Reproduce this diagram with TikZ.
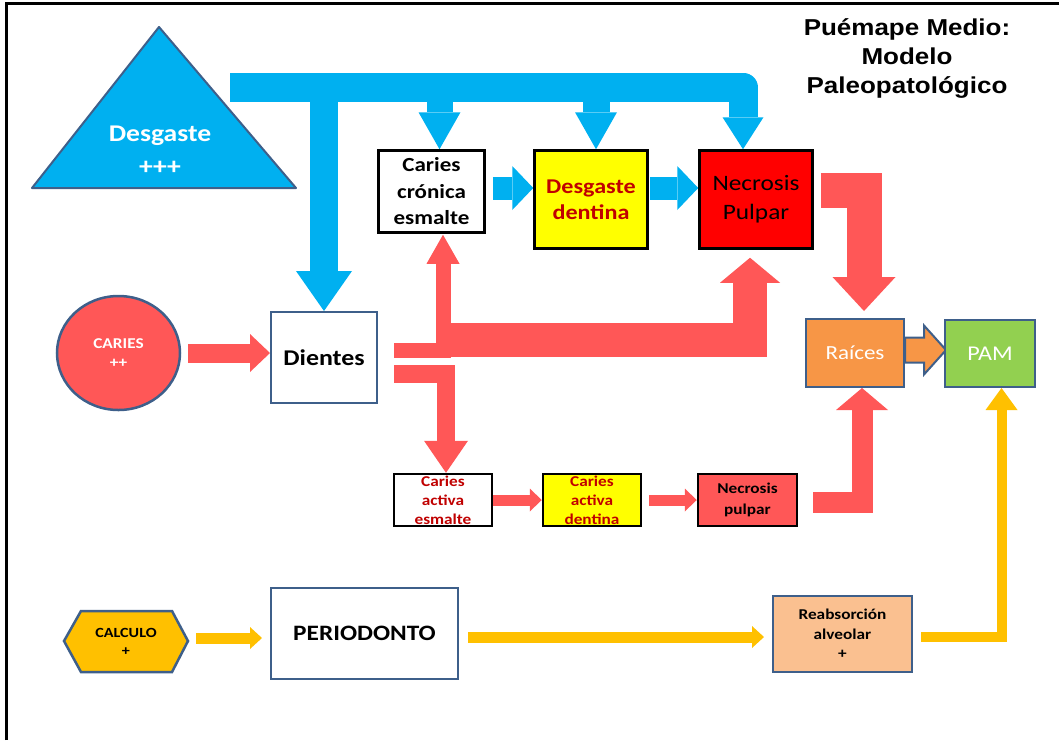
\documentclass[tikz,border=0pt]{standalone}
\usepackage{fontspec}
\setmainfont{Carlito}[FakeStretch=1.15]
\newfontfamily\headfont{Liberation Sans}[FakeStretch=1.13]
\usetikzlibrary{arrows.meta,shapes.geometric,calc}

\definecolor{skyblue}{HTML}{00B0F0}
\definecolor{slate}{HTML}{3E5F8A}
\definecolor{salmon}{HTML}{FF5757}
\definecolor{darkred}{HTML}{C00000}
\definecolor{brightred}{HTML}{FF0000}
\definecolor{lemon}{HTML}{FFFF00}
\definecolor{amber}{HTML}{FFC000}
\definecolor{tangerine}{HTML}{F79646}
\definecolor{leaf}{HTML}{92D050}
\definecolor{peach}{HTML}{FAC090}

\pgfdeclarelayer{background}
\pgfsetlayers{background,main}

\tikzset{
  blackbox/.style={draw=black, line width=2.5pt, inner sep=0pt, align=center},
  slatebox/.style={draw=slate, line width=2pt, inner sep=0pt, align=center},
  size/.style 2 args={minimum width=#1pt, minimum height=#2pt},
  flow/.style n args={4}{draw=#1, line width=#2pt, line join=miter,
    -{Triangle[width=#3pt, length=#4pt, line width=0pt]}},
}

\begin{document}
\begin{tikzpicture}[x=1pt, y=-1pt]
\useasboundingbox (0,0) rectangle (1059,740);

% frame
\draw[line width=2.2pt] (6.5,740) -- (6.5,3.5) -- (1059,3.5);

% title
\node[font=\headfont\bfseries\fontsize{23}{29}\selectfont, align=center]
  (title) at (907,58) {Puémape Medio:\\Modelo\\Paleopatológico};

% wear triangle
\filldraw[fill=skyblue, draw=slate, line width=2pt, line join=round]
  (32,188) -- (159,27) -- (296,188) -- cycle;
\node[text=white, font=\bfseries\fontsize{24}{33}\selectfont, align=center]
  (desg) at (160,150) {Desgaste\\+++};
\coordinate (bar) at (230,87);

% upper chain
\node[blackbox, size={106}{82}, fill=white, font=\bfseries\fontsize{20}{26.5}\selectfont]
  (cce) at (431.5,191.5) {Caries\\crónica\\esmalte};
\node[blackbox, size={113}{98}, fill=lemon, text=darkred, font=\bfseries\fontsize{21}{26}\selectfont]
  (dd) at (591,199.5) {Desgaste\\dentina};
\node[blackbox, size={113}{98}, fill=brightred, font=\fontsize{22}{29}\selectfont]
  (np) at (756,199.5) {Necrosis\\Pulpar};

% teeth and caries
\node[slatebox, size={106}{91}, fill=white, font=\bfseries\fontsize{22.5}{27}\selectfont]
  (dien) at (324,357.5) {Dientes};
\node[ellipse, draw=slate, line width=2.5pt, fill=salmon, inner sep=0pt,
  minimum width=123pt, minimum height=114pt, align=center, text=white,
  font=\bfseries\fontsize{15}{19}\selectfont]
  (caries) at (118.5,353) {CARIES\\++};

% roots and PAM
\node[slatebox, size={98}{68}, fill=tangerine, text=white, font=\fontsize{20}{24}\selectfont]
  (raices) at (855,353) {Raíces};
\node[slatebox, size={90}{67}, fill=leaf, text=white, font=\fontsize{21}{25}\selectfont]
  (pam) at (990,353.5) {PAM};

% lower chain
\node[blackbox, size={98}{52}, fill=white, text=darkred, font=\bfseries\fontsize{15}{19}\selectfont]
  (cae) at (443,500) {Caries\\activa\\esmalte};
\node[blackbox, size={98}{52}, fill=lemon, text=darkred, font=\bfseries\fontsize{15}{19}\selectfont]
  (cad) at (592,500) {Caries\\activa\\dentina};
\node[blackbox, size={99}{52}, fill=salmon, font=\bfseries\fontsize{15}{21}\selectfont]
  (npl) at (747.5,500) {Necrosis\\pulpar};

% calculus and periodontium
\filldraw[fill=amber, draw=slate, line width=2.5pt, line join=miter]
  (64,641) -- (81,611) -- (172,611) -- (188,641) -- (172,672) -- (81,672) -- cycle;
\coordinate (calcR) at (188,641);
\node[font=\bfseries\fontsize{14}{18}\selectfont, align=center]
  (calc) at (126,642) {CALCULO\\+};
\node[slatebox, size={187}{91}, fill=white, font=\bfseries\fontsize{22}{26}\selectfont]
  (per) at (364.5,633.5) {PERIODONTO};
\node[slatebox, size={139}{76}, fill=peach, font=\bfseries\fontsize{15}{19.5}\selectfont]
  (reab) at (842.5,634) {Reabsorción\\alveolar\\+};

% connectors
\coordinate (npTop) at ([shift={(-13,0)}]np.north);
\coordinate (cceTop) at ([shift={(8,0)}]cce.north);
\coordinate (ddTop) at ([shift={(5,0)}]dd.north);

\begin{pgfonlayer}{background}
  % wear
  \draw[flow={skyblue}{29}{41}{32}, line join=round] (bar) -| (npTop);
  \draw[flow={skyblue}{28}{56}{40}] (bar -| dien.north) -- (dien.north);
  \draw[flow={skyblue}{26}{42}{37}] (bar -| cceTop) -- (cceTop);
  \draw[flow={skyblue}{27}{42}{37}] (bar -| ddTop) -- (ddTop);
  \draw[flow={skyblue}{23}{44}{21}] ([shift={(7,-3.5)}]cce.east) -- ([shift={(0,-11.5)}]dd.west);
  \draw[flow={skyblue}{23}{44}{21}] ([shift={(1,-11.5)}]dd.east) -- ([shift={(0,-11.5)}]np.west);

  % caries
  \draw[flow={salmon}{19}{38}{20}] ([shift={(7,0)}]caries.east) -- ([shift={(0,-4.5)}]dien.west);
  \draw[flow={salmon}{34}{60}{25}] ([shift={(58,-17.5)}]dien.east) -| ([shift={(-6,8)}]np.south);
  \draw[flow={salmon}{15}{33}{29}] ([shift={(16,-7.5)}]dien.east) -| ([shift={(11.5,1)}]cce.south);
  \draw[flow={salmon}{18}{44}{32}] ([shift={(16,16.5)}]dien.east) -| ([shift={(3,0)}]cae.north);
  \draw[flow={salmon}{35}{63}{34}] ([shift={(7,-9.5)}]np.east) -| ([shift={(9,-7)}]raices.north);
  \draw[flow={salmon}{11}{23}{12}] (cae.east) -- (cad.west);
  \draw[flow={salmon}{11}{23}{12}] ([shift={(7,0)}]cad.east) -- (npl.west);
  \draw[flow={salmon}{21}{52}{22}] ([shift={(15,2)}]npl.east) -| ([shift={(7,0)}]raices.south);

  % roots to PAM
  \filldraw[fill=tangerine, draw=slate, line width=2pt, line join=miter]
    ([shift={(0,-15.5)}]raices.east) -- ++(19,0) -- ++(0,-12)
    -- ([shift={(2,-3.5)}]pam.west)
    -- ([shift={(19,21.5)}]raices.east) -- ++(0,-12) -- ([shift={(0,9.5)}]raices.east) -- cycle;

  % calculus
  \draw[flow={amber}{11}{22}{12}] ([shift={(8,-3)}]calcR) -- ([shift={(-8,4.5)}]per.west);
  \draw[flow={amber}{11}{22}{12}] ([shift={(9,3.5)}]per.east) -- ([shift={(-8,3)}]reab.west);
  \draw[flow={amber}{10}{32}{22}] ([shift={(8,3)}]reab.east) -| ([shift={(11.5,0)}]pam.south);
\end{pgfonlayer}
\end{tikzpicture}
\end{document}
